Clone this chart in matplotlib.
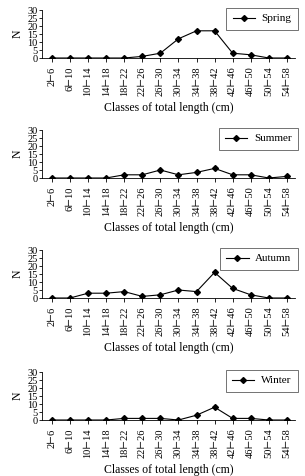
import matplotlib
matplotlib.use('Agg')
import matplotlib.pyplot as plt

plt.rcParams['font.family'] = ['Liberation Serif', 'DejaVu Serif']

classes = ['2⊢6', '6⊢10', '10⊢14', '14⊢18', '18⊢22', '22⊢26', '26⊢30',
           '30⊢34', '34⊢38', '38⊢42', '42⊢46', '46⊢50', '50⊢54', '54⊢58']
seasons = ['Spring', 'Summer', 'Autumn', 'Winter']
spring = [0, 0, 0, 0, 0, 1, 3, 12, 17, 17, 3, 2, 0, 0]
summer = [0, 0, 0, 0, 2, 2, 5, 2, 3.5, 6, 2, 2, 0, 1]
autumn = [0, 0, 3, 3, 4, 1, 2, 5, 4, 16, 6, 2, 0, 0]
winter = [0, 0, 0, 0, 1, 1, 1, 0, 3, 8, 1, 1, 0, 0]
yticks = [0, 5, 10, 15, 20, 25, 30]

W, H = 305, 476
fig = plt.figure(figsize=(W / 100, H / 100), dpi=100)

# top pixel of each panel's axes
tops = [10, 130, 250, 372]
for top, name, vals in zip(tops, seasons, [spring, summer, autumn, winter]):
    ax = fig.add_axes([42 / W, 1 - (top + 48) / H, 253 / W, 48 / H])
    x = list(range(len(classes)))
    ax.plot(x, vals, color='black', lw=0.8, marker='D', ms=3, label=name)
    ax.set_xlim(-0.55, 13.45)
    ax.set_ylim(0, 30)
    ax.set_yticks(yticks)
    ax.set_xticks(x)
    ax.set_xticklabels(classes, rotation=90, fontsize=7.5)
    ax.tick_params(axis='y', labelsize=7.5, length=2, width=0.6, pad=1)
    ax.tick_params(axis='x', length=3, width=0.6, pad=3)
    ax.spines['top'].set_visible(False)
    ax.spines['right'].set_visible(False)
    ax.spines['left'].set_linewidth(0.6)
    ax.spines['bottom'].set_linewidth(0.6)
    ax.set_ylabel('N', fontsize=8.5, labelpad=3)
    ax.set_xlabel('Classes of total length (cm)', fontsize=8.5, labelpad=4)
    leg = ax.legend(loc='upper right', bbox_to_anchor=(1.01, 1.05), fontsize=8,
                    frameon=True, fancybox=False, edgecolor='#333333',
                    handlelength=2.0, handletextpad=0.6, borderpad=0.55,
                    borderaxespad=0)
    leg.get_frame().set_linewidth(0.6)

fig.savefig('out.png', dpi=100)
